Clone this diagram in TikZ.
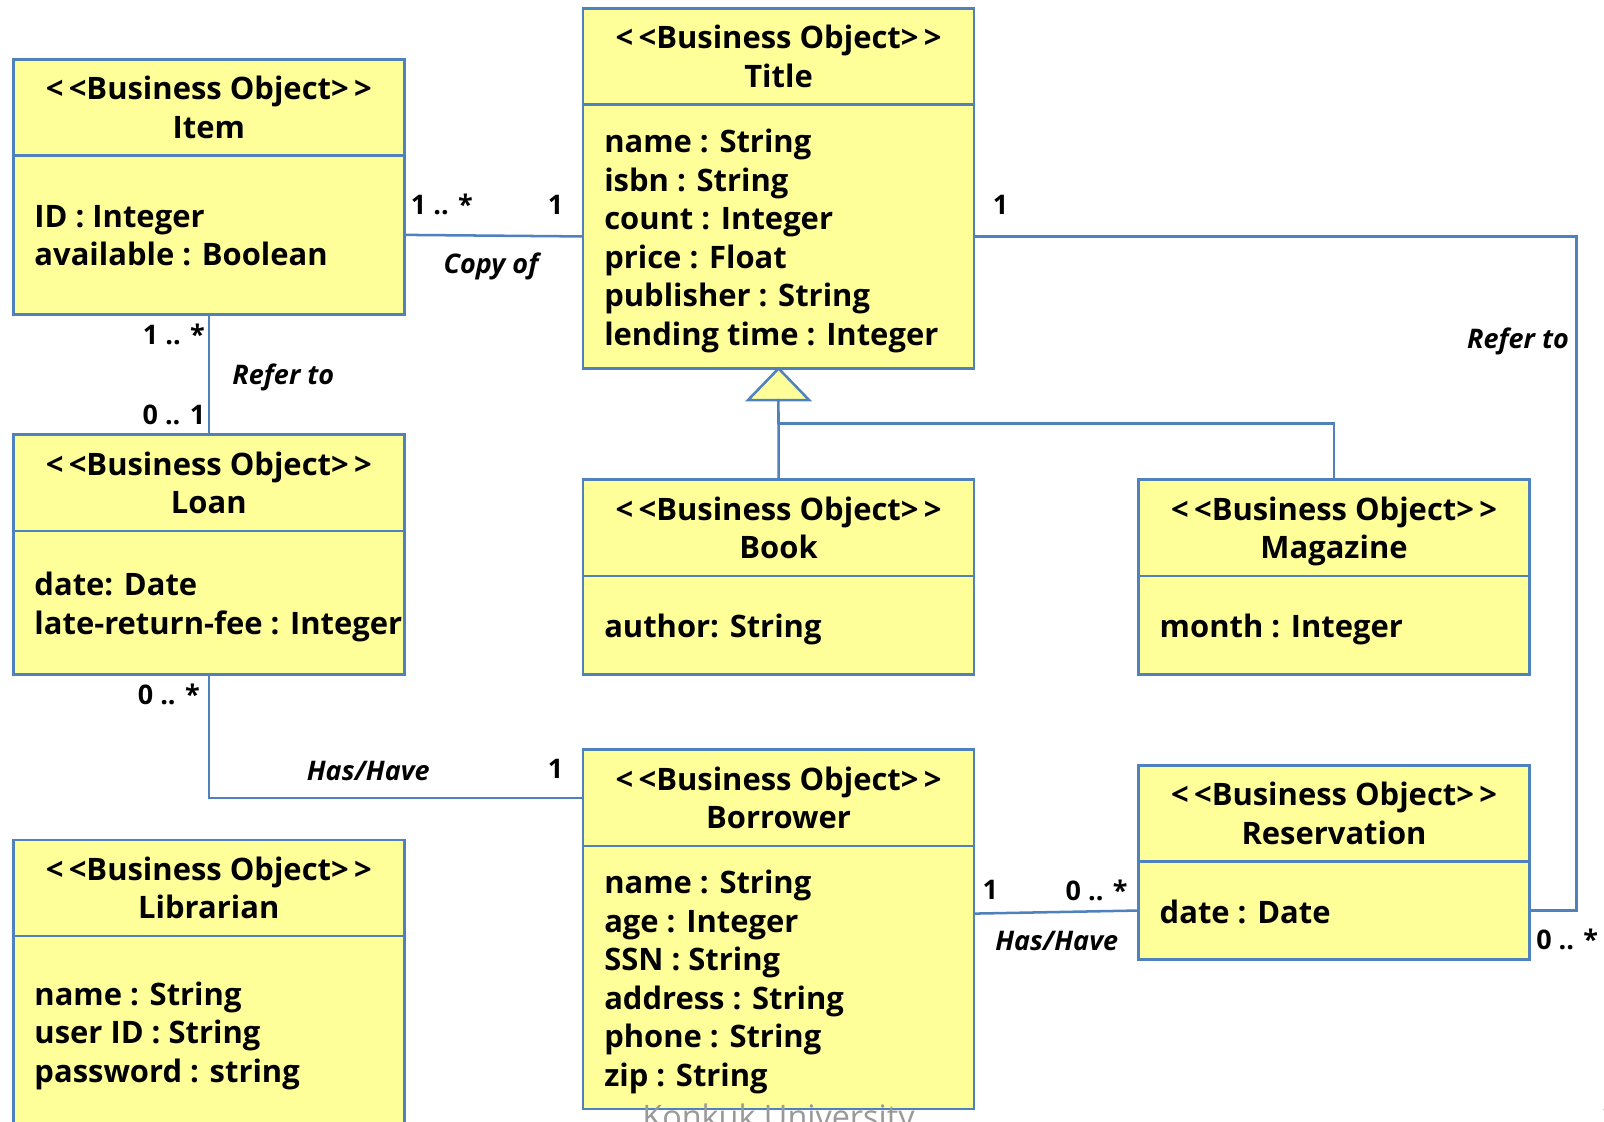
\documentclass[tikz,border=0pt]{standalone}
\usepackage{fontspec}
\setmainfont{Open Sans}
\usetikzlibrary{positioning}
\definecolor{boyellow}{RGB}{255,255,153}
\definecolor{boblue}{RGB}{79,129,189}
\newcommand{\bobj}[1]{<\kern1.5pt<Business Object>\kern1.5pt>\\#1}

\begin{document}
\begin{tikzpicture}[x=0.01cm,y=-0.01cm,
  box/.style={draw=boblue,fill=boyellow,line width=0.75pt,minimum width=3.82cm,inner sep=0pt,outer sep=0pt},
  head/.style={box,minimum height=0.94cm,align=center,text depth=0pt,font=\fontsize{8.6}{10.7}\selectfont\bfseries},
  attrs/.style={inner sep=0pt,align=left,text depth=0pt,yshift=-0.2pt,font=\fontsize{8.6}{10.7}\selectfont\bfseries},
  link/.style={draw=boblue,line width=0.7pt},
  mult/.style={font=\fontsize{7.5}{8}\selectfont\bfseries},
  role/.style={font=\fontsize{7.5}{8}\selectfont\bfseries\itshape},
  foot/.style={text=black!40,font=\fontsize{9}{10}\selectfont}]
\useasboundingbox (0,0) rectangle (1568,1096);
% classes
\node [head,anchor=north west] (itemhead) at (13,58) {\bobj{Item}};
\node [box,minimum height=1.55cm,below=0pt of itemhead] (item) {};
\node [attrs,right=0.2cm of item.west] (itemattr) {ID : Integer\\available : Boolean};
\node [head,anchor=north west] (titlehead) at (570,8) {\bobj{Title}};
\node [box,minimum height=2.58cm,below=0pt of titlehead] (title) {};
\node [attrs,right=0.2cm of title.west] (titleattr) {name : String\\isbn : String\\count : Integer\\price : Float\\publisher : String\\lending time : Integer};
\node [head,anchor=north west] (loanhead) at (13,425) {\bobj{Loan}};
\node [box,minimum height=1.40cm,below=0pt of loanhead] (loan) {};
\node [attrs,right=0.2cm of loan.west] (loanattr) {date: Date\\late-return-fee : Integer};
\node [head,anchor=north west] (bookhead) at (570,469) {\bobj{Book}};
\node [box,minimum height=0.96cm,below=0pt of bookhead] (book) {};
\node [attrs,right=0.2cm of book.west] (bookattr) {author: String};
\node [head,anchor=north west] (maghead) at (1113,469) {\bobj{Magazine}};
\node [box,minimum height=0.96cm,below=0pt of maghead] (mag) {};
\node [attrs,right=0.2cm of mag.west] (magattr) {month : Integer};
\node [head,anchor=north west] (borrowerhead) at (570,733) {\bobj{Borrower}};
\node [box,minimum height=2.57cm,below=0pt of borrowerhead] (borrower) {};
\node [attrs,right=0.2cm of borrower.west] (borrowerattr) {name : String\\age : Integer\\SSN : String\\address : String\\phone : String\\zip : String};
\node [head,anchor=north west] (resvhead) at (1113,748) {\bobj{Reservation}};
\node [box,minimum height=0.96cm,below=0pt of resvhead] (resv) {};
\node [attrs,right=0.2cm of resv.west] (resvattr) {date : Date};
\node [head,anchor=north west] (libhead) at (13,821) {\bobj{Librarian}};
\node [box,minimum height=1.86cm,below=0pt of libhead] (lib) {};
\node [attrs,right=0.2cm of lib.west] (libattr) {name : String\\user ID : String\\password : string};
% associations
\draw [link] (item.east) -- (title.west);
\draw [link] (item.south) -- (loanhead.north);
\draw [link] (loan.south) |- (borrowerhead.west);
\draw [link] ([yshift=0.625cm]borrower.east) -- (resv.west);
\draw [link] (title.east) -- ++(589,0) |- (resv.east);
% generalization
\coordinate (genbase) at (761,390);
\coordinate (genbar) at (761,414);
\draw [link,fill=boyellow] (title.south) -- ++(30,31) -- ++(-60,0) -- cycle;
\draw [link] (genbase) -- (bookhead.north);
\draw [link] (genbar) -| (maghead.north);
% labels
\node [mult] (m1) at (432,200) {1 .. *};
\node [mult] (m2) at (543,200) {1};
\node [role] (copyof) at (480,260) {Copy of};
\node [mult] (m3) at (170,327) {1 .. *};
\node [mult] (m4) at (170,406) {0 .. 1};
\node [role] (refer1) at (277,369) {Refer to};
\node [mult] (m5) at (165,679) {0 .. *};
\node [role] (has1) at (360,754) {Has/Have};
\node [mult] (m6) at (543,752) {1};
\node [mult] (m7) at (968,870) {1};
\node [mult] (m8) at (1072,870) {0 .. *};
\node [role] (has2) at (1033,920) {Has/Have};
\node [mult] (m9) at (978,200) {1};
\node [role] (refer2) at (1484,334) {Refer to};
\node [mult] (m10) at (1532,918) {0 .. *};
% footer
\node [foot,anchor=base] (footer) at (761,1103) {Konkuk University};
\node [foot,anchor=base west] (pageno) at (1552,1103) {1};
\end{tikzpicture}
\end{document}
